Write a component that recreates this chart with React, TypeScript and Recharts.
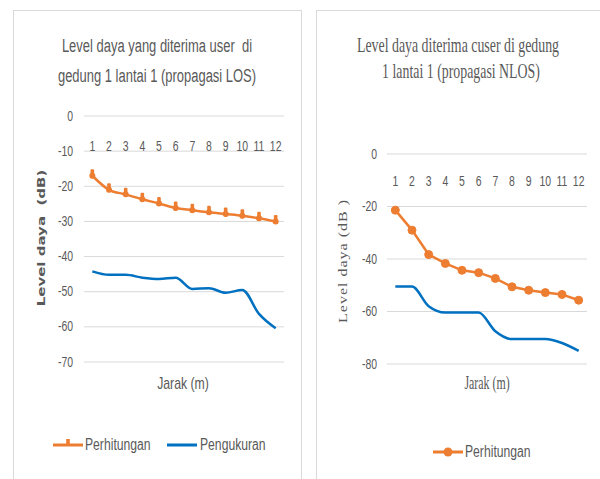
import React from 'react';
import { LineChart, Line, XAxis, YAxis, CartesianGrid } from 'recharts';

// Jarak (m) titik ukur
const jarak = ['1', '2', '3', '4', '5', '6', '7', '8', '9', '10', '11', '12'];

// Gedung 1 lantai 1, propagasi LOS (dB)
const losPerhitungan = [-17, -21, -22.3, -23.7, -24.9, -26.2, -26.8, -27.4, -27.9, -28.4, -29.1, -30];
const losPengukuran = [-44.2, -45.2, -45.2, -46, -46.4, -46, -49.2, -49, -50.3, -49.5, -56.3, -60.4];

// Gedung 1 lantai 1, propagasi NLOS (dB)
const nlosPerhitungan = [-21.4, -29, -38.3, -41.7, -44.3, -45.2, -47.4, -50.6, -51.9, -52.8, -53.5, -55.7];
const nlosPengukuran = [-50.5, -50.5, -58, -60.4, -60.4, -60.4, -67.5, -70.5, -70.5, -70.5, -72, -75];

const losTicks = [0, -10, -20, -30, -40, -50, -60, -70];
const nlosTicks = [0, -20, -40, -60, -80];

const ORANGE = '#ED7D31';
const BLUE = '#0070C0';
const GRID = '#D9D9D9';
const BORDER = '#D9D9D9';
const TEXT = '#595959';
const SANS = "'Liberation Sans', Arial, sans-serif";
const SERIF = "'Liberation Serif', 'Times New Roman', serif";
const SX = 0.72;

const losData = jarak.map((j, i) => ({ jarak: j, perhitungan: losPerhitungan[i], pengukuran: losPengukuran[i] }));
const nlosData = jarak.map((j, i) => ({ jarak: j, perhitungan: nlosPerhitungan[i], pengukuran: nlosPengukuran[i] }));

// narrow text, absolutely placed
const Txt = ({ x, y, size, family = SANS, anchor = 'middle', sx = SX, children }: any) => (
  <div
    style={{
      position: 'absolute',
      left: x,
      top: y,
      transform: `translate(${anchor === 'middle' ? '-50%' : '0'}, -50%) scaleX(${sx})`,
      transformOrigin: anchor === 'middle' ? 'center center' : 'left center',
      whiteSpace: 'pre',
      fontSize: size,
      fontFamily: family,
      color: TEXT,
      lineHeight: 1,
    }}
  >
    {children}
  </div>
);

const VTxt = ({ x, y, size, family, weight = 400, spacing = 0, children }: any) => (
  <div
    style={{
      position: 'absolute',
      left: x,
      top: y,
      transform: 'translate(-50%, -50%) rotate(-90deg) scaleY(0.72)',
      whiteSpace: 'pre',
      fontSize: size,
      fontFamily: family,
      fontWeight: weight,
      letterSpacing: spacing,
      color: TEXT,
      lineHeight: 1,
    }}
  >
    {children}
  </div>
);

const YTick = ({ x, y, payload }: any) => (
  <text
    transform={`translate(${x},${y}) scale(${SX},1)`}
    textAnchor="end"
    dominantBaseline="central"
    fontSize={14.5}
    fontFamily={SANS}
    fill={TEXT}
  >
    {payload.value}
  </text>
);

// category labels sit below the 0 gridline
const makeXTick = (dy: number) => ({ x, y, payload }: any) => (
  <text
    transform={`translate(${x},${y + dy}) scale(${SX},1)`}
    textAnchor="middle"
    dominantBaseline="central"
    fontSize={14.5}
    fontFamily={SANS}
    fill={TEXT}
  >
    {payload.value}
  </text>
);

const TickDot = ({ cx, cy }: any) => (
  <g>
    <rect x={cx - 1.8} y={cy - 6.5} width={3.6} height={9} rx={1} fill={ORANGE} />
    <circle cx={cx} cy={cy} r={3} fill={ORANGE} />
  </g>
);

const LegendLine = ({ x, y, color, marker }: any) => (
  <svg style={{ position: 'absolute', left: x, top: y - 8 }} width={30} height={16}>
    <line x1={0} y1={8} x2={30} y2={8} stroke={color} strokeWidth={3} />
    {marker === 'tick' && <rect x={13.2} y={2} width={3.6} height={7} fill={color} />}
    {marker === 'circle' && <circle cx={15} cy={8} r={4.5} fill={color} />}
  </svg>
);

const LosChart = () => (
  <div style={{ position: 'absolute', left: 0, top: 0, width: 300, height: 479 }}>
    <LineChart width={300} height={479} data={losData} margin={{ top: 115, right: 16, bottom: 117, left: 34 }}>
      <CartesianGrid vertical={false} stroke={GRID} strokeWidth={1} />
      <XAxis
        dataKey="jarak"
        orientation="top"
        height={1}
        axisLine={false}
        tickLine={false}
        tickSize={0}
        tickMargin={0}
        interval={0}
        padding={{ left: 8.33, right: 8.33 }}
        tick={makeXTick(30)}
      />
      <YAxis
        domain={[-70, 0]}
        ticks={losTicks}
        width={50}
        axisLine={false}
        tickLine={false}
        tickSize={0}
        tickMargin={11}
        tick={YTick}
      />
      <Line
        dataKey="perhitungan"
        name="Perhitungan"
        type="monotone"
        stroke={ORANGE}
        strokeWidth={2.5}
        dot={<TickDot />}
        isAnimationActive={false}
      />
      <Line
        dataKey="pengukuran"
        name="Pengukuran"
        type="monotone"
        stroke={BLUE}
        strokeWidth={2.5}
        dot={false}
        isAnimationActive={false}
      />
    </LineChart>
  </div>
);

const NlosChart = () => (
  <div style={{ position: 'absolute', left: 300, top: 0, width: 300, height: 479 }}>
    <LineChart width={300} height={479} data={nlosData} margin={{ top: 153, right: 13, bottom: 115, left: 37 }}>
      <CartesianGrid vertical={false} stroke={GRID} strokeWidth={1} />
      <XAxis
        dataKey="jarak"
        orientation="top"
        height={1}
        axisLine={false}
        tickLine={false}
        tickSize={0}
        tickMargin={0}
        interval={0}
        padding={{ left: 8.33, right: 8.33 }}
        tick={makeXTick(27)}
      />
      <YAxis
        domain={[-80, 0]}
        ticks={nlosTicks}
        width={50}
        axisLine={false}
        tickLine={false}
        tickSize={0}
        tickMargin={10}
        tick={YTick}
      />
      <Line
        dataKey="perhitungan"
        name="Perhitungan"
        type="linear"
        stroke={ORANGE}
        strokeWidth={2.5}
        dot={{ r: 4, fill: ORANGE, stroke: ORANGE, strokeWidth: 1 }}
        isAnimationActive={false}
      />
      <Line
        dataKey="pengukuran"
        name="Pengukuran"
        type="monotone"
        stroke={BLUE}
        strokeWidth={2.5}
        dot={false}
        legendType="none"
        isAnimationActive={false}
      />
    </LineChart>
  </div>
);

export default function App() {
  return (
    <div style={{ position: 'absolute', left: 0, top: 0, width: 600, height: 479, background: '#fff', overflow: 'hidden' }}>
      {/* panel frames */}
      <div style={{ position: 'absolute', left: 13, top: 10, width: 287, height: 500, border: `1px solid ${BORDER}` }} />
      <div style={{ position: 'absolute', left: 316, top: 10, width: 300, height: 500, border: `1px solid ${BORDER}` }} />

      <LosChart />
      <NlosChart />

      {/* LOS panel text */}
      <Txt x={157} y={46} size={18}>Level daya yang diterima user  di</Txt>
      <Txt x={157} y={76} size={18}>gedung 1 lantai 1 (propagasi LOS)</Txt>
      <VTxt x={42} y={238} size={15} family="'DejaVu Sans', sans-serif" weight={700}>Level daya  (dB)</VTxt>
      <Txt x={183} y={383} size={17}>Jarak (m)</Txt>
      <LegendLine x={53} y={445} color={ORANGE} marker="tick" />
      <Txt x={85} y={445} size={16} anchor="start" sx={0.76}>Perhitungan</Txt>
      <LegendLine x={167} y={445} color={BLUE} />
      <Txt x={200} y={445} size={16} anchor="start" sx={0.76}>Pengukuran</Txt>

      {/* NLOS panel text */}
      <Txt x={458} y={45} size={21} family={SERIF} sx={0.66}>Level daya diterima cuser di gedung</Txt>
      <Txt x={461} y={71} size={21} family={SERIF} sx={0.66}>1 lantai 1 (propagasi NLOS)</Txt>
      <VTxt x={343} y={261} size={16} family={SERIF} spacing={1}>Level daya (dB )</VTxt>
      <Txt x={487} y={383} size={18} family={SERIF} sx={0.66}>Jarak (m)</Txt>
      <LegendLine x={433} y={452} color={ORANGE} marker="circle" />
      <Txt x={465} y={452} size={16} anchor="start" sx={0.76}>Perhitungan</Txt>
    </div>
  );
}
